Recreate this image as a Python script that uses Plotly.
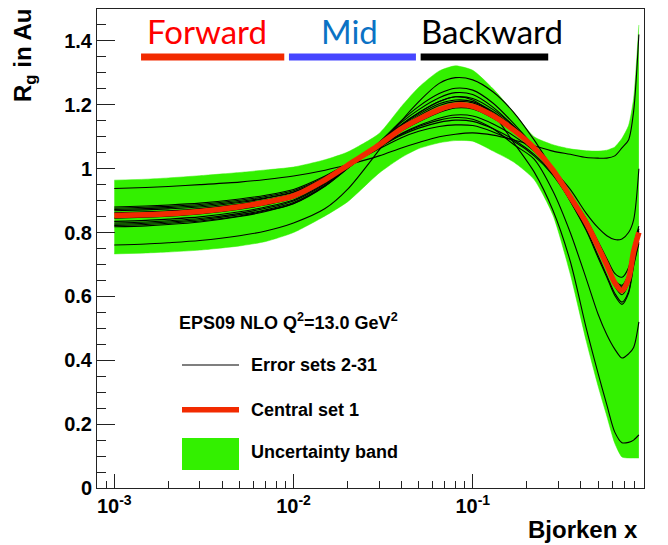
import math
import plotly.graph_objects as go

# ---------------- data ----------------
X = [0.001, 0.0015, 0.002, 0.003, 0.005, 0.007, 0.01, 0.015, 0.02, 0.03, 0.04, 0.05,
     0.065, 0.08, 0.1, 0.13, 0.17, 0.22, 0.28, 0.35, 0.43, 0.5, 0.56, 0.62, 0.68,
     0.74, 0.79, 0.845]

CENTRAL = [0.853, 0.856, 0.859, 0.866, 0.881, 0.895, 0.915, 0.965, 1.010, 1.074, 1.125, 1.155,
           1.185, 1.199, 1.195, 1.165, 1.120, 1.065, 0.996, 0.912, 0.830, 0.756, 0.698, 0.643,
           0.618, 0.655, 0.740, 0.800]

BAND_UPPER = [0.964, 0.967, 0.971, 0.978, 0.988, 0.996, 1.005, 1.028, 1.052, 1.110, 1.195, 1.255,
              1.306, 1.322, 1.308, 1.250, 1.175, 1.100, 1.075, 1.062, 1.056, 1.055, 1.058, 1.068,
              1.095, 1.135, 1.220, 1.450]

BAND_LOWER = [0.733, 0.736, 0.739, 0.745, 0.758, 0.772, 0.800, 0.852, 0.896, 0.986, 1.035, 1.063,
              1.081, 1.088, 1.086, 1.055, 1.020, 0.966, 0.855, 0.670, 0.460, 0.320, 0.225, 0.140,
              0.097, 0.094, 0.094, 0.094]

ERR_01 = [0.938, 0.941, 0.944, 0.950, 0.958, 0.966, 0.977, 0.995, 1.012, 1.040, 1.065, 1.082,
          1.100, 1.108, 1.112, 1.105, 1.090, 1.072, 1.055, 1.045, 1.035, 1.033, 1.033, 1.040,
          1.065, 1.090, 1.180, 1.420]
ERR_02 = [0.761, 0.764, 0.768, 0.775, 0.790, 0.805, 0.830, 0.875, 0.935, 1.058, 1.150, 1.210,
          1.267, 1.285, 1.278, 1.240, 1.175, 1.090, 1.000, 0.935, 0.860, 0.815, 0.790, 0.778,
          0.780, 0.800, 0.840, 1.000]
ERR_03 = [0.872, 0.875, 0.878, 0.884, 0.897, 0.909, 0.927, 0.970, 1.010, 1.066, 1.108, 1.132,
          1.152, 1.160, 1.155, 1.125, 1.075, 1.030, 0.930, 0.800, 0.655, 0.545, 0.480, 0.435,
          0.407, 0.420, 0.440, 0.520]
ERR_04 = [0.835, 0.838, 0.842, 0.849, 0.865, 0.880, 0.902, 0.955, 1.006, 1.078, 1.138, 1.175,
          1.210, 1.225, 1.215, 1.170, 1.080, 0.990, 0.870, 0.710, 0.500, 0.360, 0.260, 0.175,
          0.142, 0.143, 0.150, 0.166]
ERR_05 = [0.880, 0.883, 0.886, 0.892, 0.905, 0.917, 0.935, 0.977, 1.015, 1.070, 1.110, 1.135,
          1.158, 1.168, 1.165, 1.140, 1.102, 1.055, 0.995, 0.920, 0.842, 0.772, 0.718, 0.672,
          0.660, 0.690, 0.760, 0.820]
ERR_06 = [0.818, 0.821, 0.825, 0.833, 0.850, 0.866, 0.890, 0.945, 1.000, 1.080, 1.145, 1.185,
          1.222, 1.238, 1.232, 1.192, 1.132, 1.065, 0.990, 0.900, 0.810, 0.728, 0.665, 0.610,
          0.582, 0.615, 0.700, 0.770]
ERR_07 = [0.868, 0.871, 0.874, 0.880, 0.894, 0.907, 0.926, 0.970, 1.011, 1.068, 1.105, 1.127,
          1.145, 1.152, 1.148, 1.125, 1.090, 1.045, 0.985, 0.905, 0.825, 0.752, 0.698, 0.650,
          0.632, 0.668, 0.750, 0.810]
ERR_08 = [0.830, 0.833, 0.837, 0.844, 0.860, 0.876, 0.899, 0.952, 1.004, 1.078, 1.138, 1.175,
          1.210, 1.225, 1.220, 1.185, 1.132, 1.070, 0.998, 0.912, 0.826, 0.750, 0.690, 0.632,
          0.605, 0.640, 0.725, 0.790]
ERR_09 = [0.876, 0.879, 0.882, 0.888, 0.901, 0.913, 0.931, 0.973, 1.011, 1.062, 1.097, 1.117,
          1.132, 1.137, 1.135, 1.115, 1.085, 1.040, 0.980, 0.902, 0.822, 0.750, 0.697, 0.650,
          0.635, 0.670, 0.752, 0.812]
ERR_10 = [0.826, 0.829, 0.833, 0.840, 0.856, 0.871, 0.894, 0.948, 1.002, 1.077, 1.135, 1.170,
          1.203, 1.215, 1.210, 1.178, 1.128, 1.070, 1.000, 0.915, 0.832, 0.757, 0.698, 0.642,
          0.620, 0.655, 0.738, 0.800]
ERR_11 = [0.845, 0.848, 0.851, 0.858, 0.873, 0.887, 0.908, 0.958, 1.007, 1.076, 1.130, 1.165,
          1.198, 1.210, 1.206, 1.174, 1.124, 1.067, 0.997, 0.912, 0.828, 0.752, 0.694, 0.638,
          0.614, 0.650, 0.735, 0.798]
ERR_12 = [0.862, 0.865, 0.868, 0.875, 0.889, 0.902, 0.921, 0.968, 1.012, 1.072, 1.118, 1.147,
          1.176, 1.190, 1.187, 1.158, 1.115, 1.062, 0.995, 0.913, 0.833, 0.760, 0.703, 0.650,
          0.628, 0.662, 0.745, 0.805]
ERR_13 = [0.822, 0.825, 0.829, 0.836, 0.852, 0.868, 0.891, 0.946, 1.001, 1.082, 1.150, 1.195,
          1.235, 1.252, 1.246, 1.205, 1.140, 1.068, 0.990, 0.898, 0.806, 0.722, 0.660, 0.603,
          0.575, 0.610, 0.695, 0.765]

ERROR_SETS = [ERR_01, ERR_02, ERR_03, ERR_04, ERR_05, ERR_06, ERR_07, ERR_08, ERR_09,
              ERR_10, ERR_11, ERR_12, ERR_13]

REGION_NAMES = ["Forward", "Mid", "Backward"]
REGION_X0 = [1.41e-3, 9.43e-3, 0.0512]
REGION_X1 = [8.88e-3, 0.0482, 0.2637]
REGION_LABEL_X = [3.31e-3, 0.02065, 0.1288]
REGION_BAR_Y = 1.35
REGION_LABEL_Y = 1.432
REGION_TEXT_COLORS = ["#ff0000", "#0b72c4", "#000000"]
REGION_BAR_COLORS = ["#f22a00", "#4646ff", "#000000"]

X_TICKS = [1e-3, 1e-2, 1e-1]
X_TICK_TEXT = ["10<sup>-3</sup>", "10<sup>-2</sup>", "10<sup>-1</sup>"]
X_MINOR = [m * 10.0 ** e for e in (-4, -3, -2, -1) for m in range(2, 10)]

GREEN = "#33f000"
RED = "#f22a00"
FONT = "Liberation Sans"

# ---------------- figure ----------------
fig = go.Figure()

fig.add_trace(go.Scatter(x=X, y=BAND_LOWER, mode="lines", line=dict(color=GREEN, width=0.5,
                         shape="spline", smoothing=0.6), hoverinfo="skip", showlegend=False))
fig.add_trace(go.Scatter(x=X, y=BAND_UPPER, mode="lines", fill="tonexty", fillcolor=GREEN,
                         line=dict(color=GREEN, width=0.5, shape="spline", smoothing=0.6),
                         hoverinfo="skip", showlegend=False))

for es in ERROR_SETS:
    fig.add_trace(go.Scatter(x=X, y=es, mode="lines",
                             line=dict(color="black", width=1.1, shape="spline", smoothing=0.8),
                             showlegend=False))

fig.add_trace(go.Scatter(x=X, y=CENTRAL, mode="lines",
                         line=dict(color=RED, width=5.5, shape="spline", smoothing=0.8),
                         showlegend=False))

# region bars
for name, x0, x1, col in zip(REGION_NAMES, REGION_X0, REGION_X1, REGION_BAR_COLORS):
    fig.add_trace(go.Scatter(x=[x0, x1], y=[REGION_BAR_Y, REGION_BAR_Y], mode="lines",
                             line=dict(color=col, width=7), showlegend=False, hoverinfo="skip"))

annotations = []
for name, xl, col in zip(REGION_NAMES, REGION_LABEL_X, REGION_TEXT_COLORS):
    annotations.append(dict(x=math.log10(xl), y=REGION_LABEL_Y, xref="x", yref="y",
                            text=name, showarrow=False, xanchor="center", yanchor="middle",
                            font=dict(family="Lato", size=33, color=col)))

# axis titles
annotations.append(dict(x=-0.1325, y=0.903, xref="paper", yref="paper",
                        text="R<sub>g</sub> in Au", textangle=-90, showarrow=False,
                        xanchor="center", yanchor="middle",
                        font=dict(family=FONT, size=24, color="black", weight="bold")))
annotations.append(dict(x=0.9927, y=-0.0856, xref="paper", yref="paper",
                        text="Bjorken x", showarrow=False, xanchor="right", yanchor="middle",
                        font=dict(family=FONT, size=24, color="black", weight="bold")))

# legend (drawn by hand, ROOT style)
def px2x(p):
    return (p - 97) / 547.0

def py2y(p):
    return (488 - p) / 479.0

LEG_FONT = dict(family=FONT, size=18, color="black", weight="bold")
annotations.append(dict(x=px2x(177), y=py2y(321.7), xref="paper", yref="paper",
                        text="EPS09 NLO Q<sup>2</sup>=13.0 GeV<sup>2</sup>", showarrow=False,
                        xanchor="left", yanchor="middle", font=LEG_FONT))
annotations.append(dict(x=px2x(249), y=py2y(365.3), xref="paper", yref="paper",
                        text="Error sets 2-31", showarrow=False,
                        xanchor="left", yanchor="middle", font=LEG_FONT))
annotations.append(dict(x=px2x(249), y=py2y(410), xref="paper", yref="paper",
                        text="Central set 1", showarrow=False,
                        xanchor="left", yanchor="middle", font=LEG_FONT))
annotations.append(dict(x=px2x(249), y=py2y(452), xref="paper", yref="paper",
                        text="Uncertainty band", showarrow=False,
                        xanchor="left", yanchor="middle", font=LEG_FONT))

shapes = [
    dict(type="line", xref="paper", yref="paper", x0=px2x(182), x1=px2x(239),
         y0=py2y(365), y1=py2y(365), line=dict(color="black", width=1.1)),
    dict(type="line", xref="paper", yref="paper", x0=px2x(182), x1=px2x(239),
         y0=py2y(409.7), y1=py2y(409.7), line=dict(color=RED, width=5.5)),
    dict(type="rect", xref="paper", yref="paper", x0=px2x(182), x1=px2x(239),
         y0=py2y(470), y1=py2y(438), fillcolor=GREEN, line=dict(width=0)),
]

TICK_FONT = dict(family=FONT, size=20, color="black", weight="bold")

fig.update_layout(
    width=668, height=545, autosize=False,
    margin=dict(l=97, r=24, t=9, b=57, pad=0),
    plot_bgcolor="white", paper_bgcolor="white",
    showlegend=False,
    annotations=annotations, shapes=shapes,
    xaxis=dict(type="log", range=[-3.0965, -0.0445], showgrid=False, zeroline=False,
               showline=True, linecolor="#222", linewidth=1, mirror=True,
               ticks="inside", ticklen=14, tickwidth=1, tickcolor="#222",
               tickmode="array", tickvals=X_TICKS, ticktext=X_TICK_TEXT,
               tickfont=TICK_FONT,
               minor=dict(ticks="inside", ticklen=7, tickwidth=1, tickcolor="#222",
                          tickmode="array", tickvals=X_MINOR, showgrid=False)),
    yaxis=dict(range=[0, 1.5], showgrid=False, zeroline=False,
               showline=True, linecolor="#222", linewidth=1, mirror=True,
               ticks="inside", ticklen=18, tickwidth=1, tickcolor="#222",
               tick0=0, dtick=0.2, tickfont=TICK_FONT,
               minor=dict(ticks="inside", ticklen=9, tickwidth=1, tickcolor="#222",
                          dtick=0.05, tick0=0, showgrid=False)),
)

fig.write_html("out.html")
